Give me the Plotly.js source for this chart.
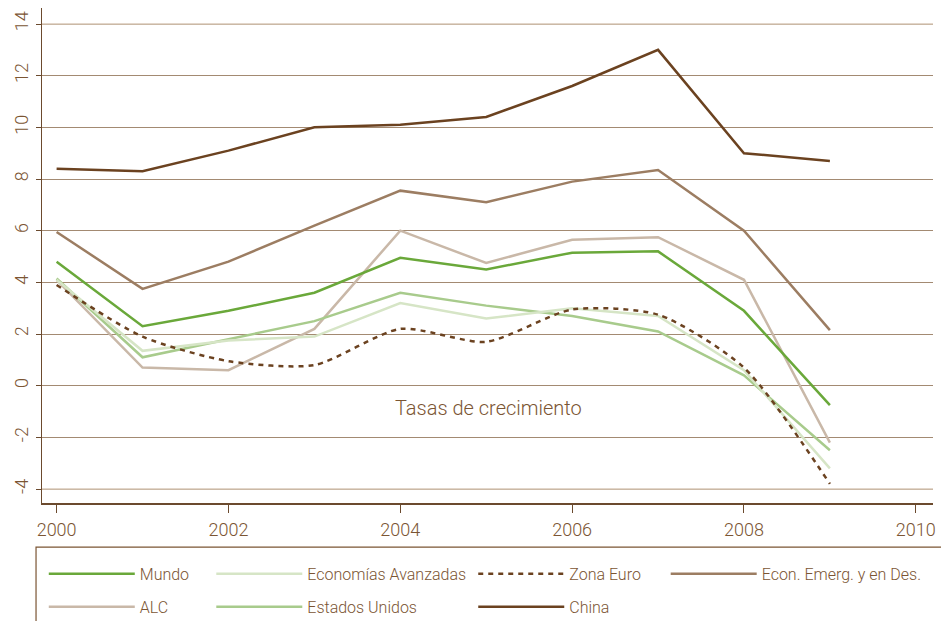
<!DOCTYPE html>
<html><head><meta charset="utf-8">
<script src="https://cdn.plot.ly/plotly-3.0.1.min.js"></script>
<style>html,body{margin:0;padding:0;background:#fff}</style>
</head><body><div id="chart" style="width:941px;height:621px"></div>
<script>
const years = [2000,2001,2002,2003,2004,2005,2006,2007,2008,2009];
const mundo      = [4.8, 2.3, 2.9, 3.6, 4.95, 4.5, 5.15, 5.2, 2.9, -0.75];
const avanzadas  = [4.1, 1.35, 1.75, 1.9, 3.2, 2.6, 3.0, 2.7, 0.6, -3.2];
const zonaEuro   = [3.9, 1.9, 0.95, 0.8, 2.2, 1.7, 2.95, 2.75, 0.7, -3.8];
const emergentes = [5.95, 3.75, 4.8, 6.2, 7.55, 7.1, 7.9, 8.35, 6.0, 2.15];
const alc        = [4.1, 0.7, 0.6, 2.2, 6.0, 4.75, 5.65, 5.75, 4.1, -2.2];
const eeuu       = [4.15, 1.1, 1.8, 2.5, 3.6, 3.1, 2.7, 2.1, 0.4, -2.5];
const china      = [8.4, 8.3, 9.1, 10.0, 10.1, 10.4, 11.6, 13.0, 9.0, 8.7];
const yTicks = [-4,-2,0,2,4,6,8,10,12,14];
const yTickText = ["-4","-2","0","2","4","6","8","10","12","14"];
const xTicks = [2000,2002,2004,2006,2008,2010];
const annotationText = "Tasas de crecimiento";

const brown = '#7b5533';
function tr(name, y, color, legend, extra) {
  return Object.assign({
    x: years, y: y, name: name, type: 'scatter', mode: 'lines',
    line: {color: color, width: 2.5}, legend: legend, legendgroup: name
  }, extra || {});
}
const traces = [
  tr('China', china, '#6b4220', 'legend3'),
  tr('Econ. Emerg. y en Des.', emergentes, '#9c7d62', 'legend4'),
  tr('ALC', alc, '#c9b8a8', 'legend'),
  tr('Estados Unidos', eeuu, '#a8cb8c', 'legend2'),
  tr('Economías Avanzadas', avanzadas, '#d6e5c6', 'legend2'),
  tr('Mundo', mundo, '#6aa83a', 'legend'),
  tr('Zona Euro', zonaEuro, '#6b4220', 'legend3', {line: {color: '#6b4220', width: 2.5, dash: '5px,5px', shape: 'spline', smoothing: 0.7}})
];
const legendOrder = {'Mundo':1,'ALC':2,'Economías Avanzadas':1,'Estados Unidos':2,'Zona Euro':1,'China':2,'Econ. Emerg. y en Des.':1};
traces.forEach(t => t.legendrank = legendOrder[t.name]);

const legFont = {family: 'Roboto', size: 16, color: brown, weight: 300};
function leg(x) {
  return {x: x, y: -0.109, xanchor: 'left', yanchor: 'top', orientation: 'v',
    bgcolor: 'rgba(0,0,0,0)', font: legFont, itemwidth: 86, tracegroupgap: 9,
    traceorder: 'grouped'};
}
const layout = {
  width: 941, height: 621,
  margin: {l: 42, r: 8, t: 8, b: 118, autoexpand: false},
  paper_bgcolor: '#fff', plot_bgcolor: '#fff',
  font: {family: 'Roboto', color: brown, weight: 300},
  showlegend: true,
  xaxis: {range: [1999.83, 2010.2], tickvals: xTicks, showgrid: false, zeroline: false,
    showline: true, linecolor: '#6b4a2e', linewidth: 1.5, ticks: 'outside', ticklen: 8,
    tickcolor: '#6b4a2e', tickfont: {size: 18, color: brown}, ticklabelstandoff: 2},
  yaxis: {range: [-4.54, 14.62], tickvals: yTicks, ticktext: yTickText, tickangle: -90,
    showgrid: true, gridcolor: '#a38a72', gridwidth: 1, zeroline: false,
    showline: true, linecolor: '#6b4a2e', linewidth: 1.5, ticks: 'outside', ticklen: 5,
    tickcolor: '#6b4a2e', tickfont: {size: 18, color: brown}, ticklabelstandoff: 0},
  legend: leg(0.002), legend2: leg(0.19), legend3: leg(0.484), legend4: leg(0.70),
  annotations: [{x: 2005.03, y: -0.85, xref: 'x', yref: 'y', text: annotationText, showarrow: false,
    font: {size: 20, color: brown, family: 'Roboto', weight: 300}}],
  shapes: [
    {type: 'line', xref: 'paper', yref: 'y', x0: 0, x1: 1, y0: 14, y1: 14, line: {color: '#d8c8b8', width: 1.5}},
    {type: 'line', xref: 'paper', yref: 'y', x0: 0, x1: 1, y0: -4, y1: -4, line: {color: '#d8c8b8', width: 1.5}},
    {type: 'rect', xref: 'paper', yref: 'paper', x0: -0.0067, x1: 1.02, y0: -0.3, y1: -0.089, line: {color: '#7b5533', width: 1.2}}
  ]
};
Plotly.newPlot('chart', traces, layout, {displayModeBar: false, staticPlot: true});
</script></body></html>
